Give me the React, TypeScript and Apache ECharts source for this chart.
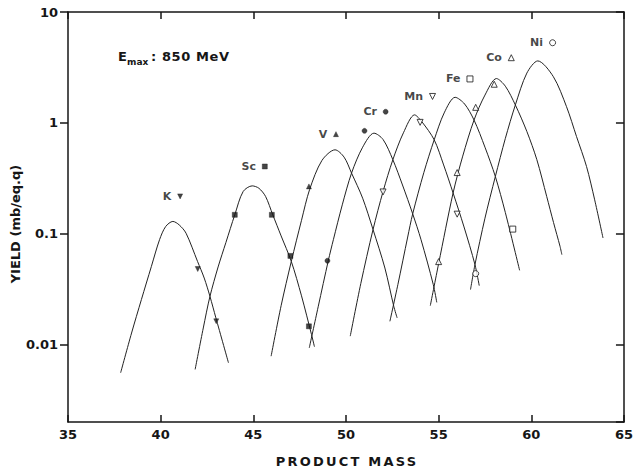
import React, { useEffect, useRef } from 'react';
import * as echarts from 'echarts';

// ---- axes ----
const massMin = 35;
const massMax = 65;
const massStep = 5;
const yieldMin = 0.002;
const yieldMax = 10;

// ---- element names ----
const elements = ['K', 'Sc', 'V', 'Cr', 'Mn', 'Fe', 'Co', 'Ni'];

// ---- fitted curves [mass, yield mb/eq.q] ----
const kCurve = [[37.84, 0.00556], [38.43, 0.0127], [38.96, 0.0254], [39.5, 0.0507], [39.94, 0.0883], [40.27, 0.116], [40.66, 0.129], [41.0, 0.12], [41.37, 0.101], [41.99, 0.0562], [42.35, 0.0398], [42.66, 0.0272], [42.98, 0.0174], [43.66, 0.00684]];
const scCurve = [[41.86, 0.00596], [42.3, 0.0141], [42.66, 0.0272], [43.1, 0.0501], [43.52, 0.0832], [44.0, 0.148], [44.45, 0.24], [44.94, 0.27], [45.3, 0.257], [45.66, 0.217], [46.05, 0.148], [46.5, 0.0955], [47.05, 0.0562], [47.6, 0.0275], [48.14, 0.0123], [48.3, 0.00955]];
const vCurve = [[45.96, 0.00785], [46.5, 0.0224], [47.05, 0.0562], [47.6, 0.132], [48.04, 0.251], [48.7, 0.457], [49.41, 0.571], [49.9, 0.49], [50.3, 0.352], [50.9, 0.209], [51.46, 0.109], [52.1, 0.049], [52.58, 0.0221], [52.76, 0.0174]];
const crCurve = [[48.02, 0.00933], [48.5, 0.0219], [49.05, 0.0575], [49.32, 0.0883], [49.8, 0.182], [50.3, 0.352], [50.9, 0.603], [51.51, 0.807], [52.0, 0.708], [52.53, 0.465], [53.05, 0.275], [53.6, 0.151], [54.05, 0.0883], [54.71, 0.0348], [54.9, 0.024]];
const mnCurve = [[50.23, 0.0119], [50.8, 0.0355], [51.46, 0.109], [52.0, 0.24], [52.53, 0.465], [53.1, 0.813], [53.7, 1.18], [54.1, 1.02], [54.76, 0.703], [55.27, 0.417], [55.78, 0.233], [56.37, 0.115], [56.96, 0.0526], [57.19, 0.034]];
const feCurve = [[52.37, 0.0162], [52.8, 0.0347], [53.33, 0.0933], [53.6, 0.151], [54.2, 0.355], [54.76, 0.703], [55.3, 1.23], [55.89, 1.7], [56.4, 1.48], [56.91, 1.06], [57.5, 0.603], [58.06, 0.328], [58.6, 0.155], [59.37, 0.0467]];
const coCurve = [[54.55, 0.0224], [55.0, 0.0537], [55.78, 0.233], [56.3, 0.501], [56.91, 1.06], [57.5, 1.78], [58.12, 2.51], [58.6, 2.14], [59.14, 1.45], [59.76, 0.836], [60.3, 0.465], [60.83, 0.217], [61.2, 0.126], [61.55, 0.0769], [61.65, 0.0647]];
const niCurve = [[56.72, 0.0313], [56.96, 0.0526], [57.5, 0.138], [58.06, 0.328], [58.6, 0.724], [59.14, 1.45], [59.76, 2.81], [60.35, 3.62], [61.19, 2.61], [61.9, 1.4], [62.44, 0.753], [62.98, 0.404], [63.42, 0.202], [63.87, 0.0914]];

// ---- measured points [mass, yield] ----
const kPoints = [[42, 0.048], [43, 0.0162]];
const scPoints = [[44, 0.148], [46, 0.148], [47, 0.063], [48, 0.0146]];
const vPoints = [[48, 0.267]];
const crPoints = [[49, 0.057], [51, 0.847]];
const mnPoints = [[52, 0.238], [54, 1.01], [56, 0.15]];
const fePoints = [[59, 0.11]];
const coPoints = [[55, 0.056], [56, 0.356], [57, 1.38], [58, 2.23]];
const niPoints = [[57, 0.0436]];

const curves = [kCurve, scCurve, vCurve, crCurve, mnCurve, feCurve, coCurve, niCurve];
const points = [kPoints, scPoints, vPoints, crPoints, mnPoints, fePoints, coPoints, niPoints];

// ---- styling (kept apart from data) ----
const markerStyles = [
  { symbol: 'triangle', rotate: 180, filled: true },
  { symbol: 'rect', rotate: 0, filled: true },
  { symbol: 'triangle', rotate: 0, filled: true },
  { symbol: 'circle', rotate: 0, filled: true },
  { symbol: 'triangle', rotate: 180, filled: false },
  { symbol: 'rect', rotate: 0, filled: false },
  { symbol: 'triangle', rotate: 0, filled: false },
  { symbol: 'circle', rotate: 0, filled: false },
];
// where each inline element label sits (mass, yield coordinates)
const labelAnchors = [[41.05, 0.217], [45.62, 0.404], [49.46, 0.791], [52.14, 1.26], [54.67, 1.73], [56.69, 2.49], [58.92, 3.87], [61.15, 5.28]];

const INK = '#161616';
const FONT = 'DejaVu Sans';

export default function App() {
  const ref = useRef<HTMLDivElement>(null);

  useEffect(() => {
    const el = ref.current;
    if (!el) return;
    const chart = echarts.init(el, null, { renderer: 'svg' });

    const series: any[] = [];
    elements.forEach((name, i) => {
      const ms = markerStyles[i];
      const itemStyle = ms.filled
        ? { color: INK, borderColor: INK, borderWidth: 0.5 }
        : { color: '#ffffff', borderColor: INK, borderWidth: 1 };
      const size = ms.filled ? 5 : 6;
      series.push({
        type: 'line',
        name: name + ' fit',
        data: curves[i],
        smooth: 0.3,
        showSymbol: false,
        silent: true,
        lineStyle: { color: '#222', width: 1 },
        z: 2,
      });
      series.push({
        type: 'scatter',
        name: name,
        data: points[i],
        symbol: ms.symbol,
        symbolRotate: ms.rotate,
        symbolSize: size,
        itemStyle,
        silent: true,
        z: 3,
      });
      series.push({
        type: 'scatter',
        name: name + ' label',
        data: [labelAnchors[i]],
        symbol: ms.symbol,
        symbolRotate: ms.rotate,
        symbolSize: size,
        itemStyle,
        silent: true,
        z: 3,
        label: {
          show: true,
          position: 'left',
          distance: 6,
          formatter: name,
          fontFamily: FONT,
          fontWeight: 'bold',
          fontSize: 11,
          color: INK,
        },
      });
    });

    const axisLine = { show: true, lineStyle: { color: INK, width: 1.5 } };
    const tickStyle = { color: INK, width: 1.5 };
    const labelFont = { fontFamily: FONT, fontWeight: 'bold' as const, fontSize: 13, color: INK };

    chart.setOption({
      animation: false,
      backgroundColor: '#ffffff',
      grid: { left: 68, right: 8, top: 12, bottom: 47 },
      xAxis: [
        {
          type: 'value', min: massMin, max: massMax, interval: massStep, position: 'bottom',
          axisLine, axisTick: { inside: true, length: 7, lineStyle: tickStyle },
          axisLabel: { margin: 6, ...labelFont }, splitLine: { show: false },
        },
        {
          type: 'value', min: massMin, max: massMax, interval: massStep, position: 'top',
          axisLine, axisTick: { inside: true, length: 7, lineStyle: tickStyle },
          axisLabel: { show: false }, splitLine: { show: false },
        },
      ],
      yAxis: [
        {
          type: 'log', logBase: 10, min: yieldMin, max: yieldMax, position: 'left',
          axisLine, axisTick: { inside: false, length: 8, lineStyle: tickStyle },
          axisLabel: {
            margin: 10, showMinLabel: false, ...labelFont,
            formatter: (v: number) => (v < 0.005 ? '' : String(Number(v.toPrecision(3)))),
          },
          splitLine: { show: false },
        },
        {
          type: 'log', logBase: 10, min: yieldMin, max: yieldMax, position: 'right',
          axisLine, axisTick: { inside: true, length: 8, lineStyle: tickStyle },
          axisLabel: { show: false }, splitLine: { show: false },
        },
      ],
      graphic: [
        { type: 'text', x: 118, y: 56, style: { text: 'E', fontFamily: FONT, fontWeight: 'bold', fontSize: 13, fill: INK, textVerticalAlign: 'middle' } },
        { type: 'text', x: 127, y: 62, style: { text: 'max', fontFamily: FONT, fontWeight: 'bold', fontSize: 9, fill: INK, textVerticalAlign: 'middle' } },
        { type: 'text', x: 151, y: 56, style: { text: ': 850 MeV', fontFamily: FONT, fontWeight: 'bold', fontSize: 13, fill: INK, textVerticalAlign: 'middle' } },
        { type: 'text', x: 347, y: 461, style: { text: 'PRODUCT MASS', fontFamily: FONT, fontWeight: 'bold', fontSize: 13, fill: INK, textAlign: 'center', textVerticalAlign: 'middle' } },
        { type: 'text', x: 15, y: 224, rotation: Math.PI / 2, style: { text: 'YIELD (mb/eq.q)', fontFamily: FONT, fontWeight: 'bold', fontSize: 13, fill: INK, textAlign: 'center', textVerticalAlign: 'middle' } },
      ],
      series,
    });

    const applySpacing = () => {
      el.querySelectorAll('text').forEach((t) => {
        const s = t.textContent || '';
        if (s === 'PRODUCT MASS') t.setAttribute('letter-spacing', '2.2');
        if (s === ': 850 MeV') t.setAttribute('letter-spacing', '0.6');
      });
    };
    chart.on('finished', applySpacing);
    applySpacing();
    const timer = setTimeout(applySpacing, 30);

    return () => {
      clearTimeout(timer);
      chart.dispose();
    };
  }, []);

  return (
    <div
      ref={ref}
      style={{ position: 'absolute', left: 0, top: 0, width: 636, height: 469, background: '#fff' }}
    />
  );
}
